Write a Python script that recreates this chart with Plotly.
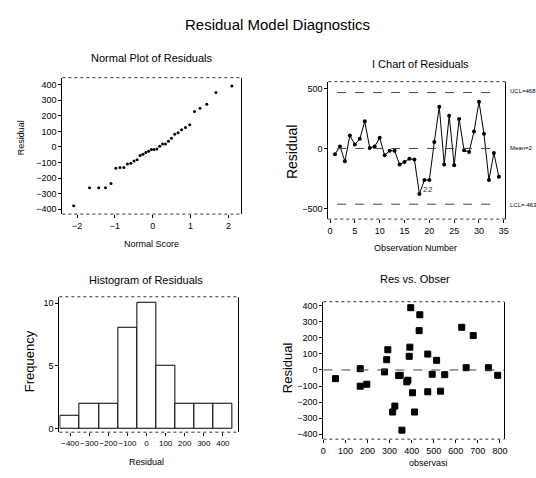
import plotly.graph_objects as go
from statistics import NormalDist

# ---------------- data ----------------
obs_number = list(range(1, 35))
residuals = [-47, 19, -105, 110, 36, 82, 228, 5, 19, 91, -55, -17, -17, -132, -110,
             -83, -91, -378, -262, -262, 55, 350, -132, 275, -138, 248, -14, -28,
             143, 391, 124, -262, -36, -235]

hist_centers = [-400, -300, -200, -100, 0, 100, 200, 300, 400]
hist_counts = [1, 2, 2, 8, 10, 5, 2, 2, 2]

observasi = [55, 167, 167, 197, 277, 287, 292, 314, 324, 341, 348, 356, 378, 383, 389,
             392, 396, 404, 413, 434, 437, 473, 473, 493, 513, 531, 550, 627, 647, 679,
             748, 790]
obs_resid = [-54, 8, -101, -89, -12, 64, 126, -262, -225, -35, -33, -375, -74, -64, 85,
             142, 388, -142, -262, 245, 344, 99, -136, -27, 60, -132, -29, 266,
             14, 214, 14, -33]

ucl, mean_val, lcl = 468, 2, -463

# normal scores (Blom) for sorted residuals
n = len(residuals)
sorted_res = sorted(residuals)
nd = NormalDist()
normal_scores = [nd.inv_cdf((i + 1 - 0.375) / (n + 0.25)) for i in range(n)]

W, H = 536, 478
FONT = "Liberation Sans, Arial"


def px(x):
    return x / W


def py(y):
    return 1 - y / H


fig = go.Figure()

# panel 1: normal plot
fig.add_trace(go.Scatter(x=normal_scores, y=sorted_res, mode="markers",
                         marker=dict(color="black", size=3), xaxis="x", yaxis="y",
                         showlegend=False))
# panel 2: I chart
fig.add_trace(go.Scatter(x=obs_number, y=residuals, mode="lines+markers",
                         line=dict(color="black", width=1),
                         marker=dict(color="black", size=4), xaxis="x2", yaxis="y2",
                         showlegend=False))
# panel 3: histogram
fig.add_trace(go.Bar(x=hist_centers, y=hist_counts, width=100,
                     marker=dict(color="white", line=dict(color="black", width=1)),
                     xaxis="x3", yaxis="y3", showlegend=False))
# panel 4: residual vs observasi
fig.add_trace(go.Scatter(x=observasi, y=obs_resid, mode="markers",
                         marker=dict(color="black", size=6, symbol="square",
                                     line=dict(color="black", width=1)),
                         xaxis="x4", yaxis="y4", showlegend=False))

tickfont = dict(family=FONT, size=9, color="black")
common_x = dict(showgrid=False, zeroline=False, ticks="outside", ticklen=3,
                tickcolor="black", tickfont=tickfont, showline=False, tickangle=0)
common_y = dict(showgrid=False, zeroline=False, ticks="outside", ticklen=3,
                tickcolor="black", tickfont=tickfont, showline=True, mirror=True,
                linecolor="black", linewidth=1)

# domains in pixels
d1 = (60, 241, 77, 214)
d2 = (329, 508, 81, 219)
d3 = (57, 238, 297, 433)
d4 = (324, 507, 302, 440)


def dom(d):
    x0, x1, y0, y1 = d
    return [px(x0), px(x1)], [py(y1), py(y0)]


dx1, dy1 = dom(d1)
dx2, dy2 = dom(d2)
dx3, dy3 = dom(d3)
dx4, dy4 = dom(d4)

fig.update_layout(
    width=W, height=H, margin=dict(l=0, r=0, t=0, b=0),
    paper_bgcolor="white", plot_bgcolor="white", bargap=0,
    xaxis=dict(domain=dx1, range=[-2.39, 2.34], tickvals=[-2, -1, 0, 1, 2],
               anchor="y", **common_x),
    yaxis=dict(domain=dy1, range=[-432, 445], tickvals=list(range(-400, 401, 100)),
               anchor="x", **common_y),
    xaxis2=dict(domain=dx2, range=[-0.34, 35.3], tickvals=list(range(0, 36, 5)),
                anchor="y2", **common_x),
    yaxis2=dict(domain=dy2, range=[-587, 559], tickvals=[-500, 0, 500],
                anchor="x2", **common_y),
    xaxis3=dict(domain=dx3, range=[-457, 481], tickvals=list(range(-400, 401, 100)),
                anchor="y3", **{**common_x, "tickfont": dict(family=FONT, size=8, color="black")}),
    yaxis3=dict(domain=dy3, range=[-0.3, 10.5], tickvals=[0, 5, 10],
                anchor="x3", **common_y),
    xaxis4=dict(domain=dx4, range=[0, 820], tickvals=list(range(0, 801, 100)),
                anchor="y4", **common_x),
    yaxis4=dict(domain=dy4, range=[-431, 425], tickvals=list(range(-400, 401, 100)),
                anchor="x4", **common_y),
)

shapes = []
for xr, yr in [("x", "y"), ("x2", "y2"), ("x3", "y3"), ("x4", "y4")]:
    for yv in (0, 1):
        shapes.append(dict(type="line", xref=f"{xr} domain", yref=f"{yr} domain",
                           x0=0, x1=1, y0=yv, y1=yv,
                           line=dict(color="#333", width=1, dash="dot")))
# control lines
for v in (ucl, mean_val, lcl):
    shapes.append(dict(type="line", xref="x2 domain", yref="y2", x0=0.05, x1=0.95,
                       y0=v, y1=v, line=dict(color="#444", width=1, dash="dash")))
shapes.append(dict(type="line", xref="x4 domain", yref="y4", x0=0, x1=1, y0=0, y1=0,
                   line=dict(color="#444", width=1, dash="dash")))
fig.update_layout(shapes=shapes)

ann = []


def text(x, y, s, size, angle=0, xanchor="center"):
    ann.append(dict(x=px(x), y=py(y), xref="paper", yref="paper", text=s,
                    showarrow=False, textangle=angle, xanchor=xanchor,
                    yanchor="middle", font=dict(family=FONT, size=size, color="black")))


text(278, 24, "Residual Model Diagnostics", 15)
text(151, 57, "Normal Plot of Residuals", 11)
text(422, 63, "I Chart of Residuals", 11)
text(145, 280, "Histogram of Residuals", 11)
text(417, 279, "Res vs. Obser", 11)

text(150, 244, "Normal Score", 9)
text(417, 248, "Observation Number", 9)
text(145, 463, "Residual", 9)
text(430, 464, "observasi", 9)

text(19, 137, "Residual", 9, angle=-90)
text(293, 152, "Residual", 14, angle=-90)
text(27, 362, "Frequency", 13, angle=-90)
text(288, 368, "Residual", 13, angle=-90)

text(511, 90, "UCL=468", 6, xanchor="left")
text(511, 148, "Mean=2", 6, xanchor="left")
text(511, 205, "LCL=-463", 6, xanchor="left")

for i in (19, 20):
    ann.append(dict(x=i, y=residuals[i - 1], xref="x2", yref="y2", text="2",
                    showarrow=False, yshift=-9, xshift=1,
                    font=dict(family=FONT, size=8, color="#333")))

fig.update_layout(annotations=ann)

fig.write_html("out.html", config={"displayModeBar": False},
               post_script="document.body.style.margin='0px';document.body.style.overflow='hidden';")
